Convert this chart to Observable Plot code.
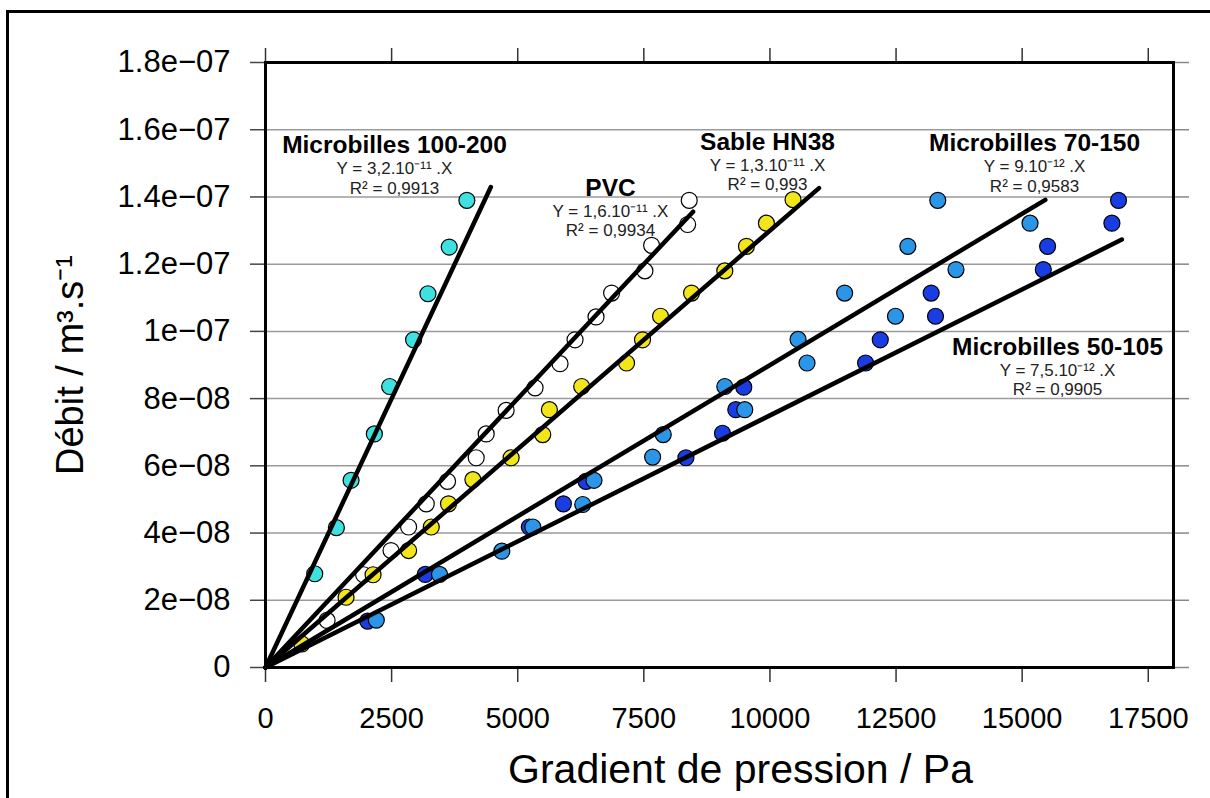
<!DOCTYPE html>
<html><head><meta charset="utf-8">
<script src="https://cdn.jsdelivr.net/npm/d3@7"></script>
<script src="https://cdn.jsdelivr.net/npm/@observablehq/plot@0.6"></script>
<style>
html,body{margin:0;padding:0;background:#fff;overflow:hidden;width:1210px;height:798px;}
#border{position:absolute;left:6px;top:10px;width:1400px;height:1000px;border:3px solid #000;box-sizing:border-box;}
#chart{position:absolute;left:0;top:0;}
#chart svg{display:block;}
</style></head><body>
<div id="border"></div>
<div id="chart"></div>
<script>
// Axis ticks and labels
const xTicks = [0, 2500, 5000, 7500, 10000, 12500, 15000, 17500];
const xTickLabels = ["0", "2500", "5000", "7500", "10000", "12500", "15000", "17500"];
const yTicks = [0, 2e-8, 4e-8, 6e-8, 8e-8, 1e-7, 1.2e-7, 1.4e-7, 1.6e-7, 1.8e-7];
const yTickLabels = ["0", "2e\u221208", "4e\u221208", "6e\u221208", "8e\u221208", "1e\u221207", "1.2e\u221207", "1.4e\u221207", "1.6e\u221207", "1.8e\u221207"];
const gridValues = [2e-8, 4e-8, 6e-8, 8e-8, 1e-7, 1.2e-7, 1.4e-7, 1.6e-7];

// Series
const seriesNames = ["Microbilles 100-200", "PVC", "Sable HN38", "Microbilles 70-150", "Microbilles 50-105"];
const seriesColors = ["#3fe0e0", "#ffffff", "#f2e61a", "#2b96e8", "#1a3de3"];
const slopes = [3.2e-11, 1.6e-11, 1.3e-11, 9e-12, 7.5e-12];
const lineEndX = [4467, 8476, 10972, 15459, 16976];
const equations = ["Y = 3,2.10\u207B\u00B9\u00B9 .X", "Y = 1,6.10\u207B\u00B9\u00B9 .X", "Y = 1,3.10\u207B\u00B9\u00B9 .X", "Y = 9.10\u207B\u00B9\u00B2 .X", "Y = 7,5.10\u207B\u00B9\u00B2 .X"];
const r2Labels = ["R\u00B2 = 0,9913", "R\u00B2 = 0,9934", "R\u00B2 = 0,993", "R\u00B2 = 0,9583", "R\u00B2 = 0,9905"];
const labelX = [2557, 6839, 9952, 15245, 15701];
const labelY = [1.53e-7, 1.404e-7, 1.54e-7, 1.536e-7, 9.31e-8];

// Points: Microbilles 100-200 (cyan)
const mb100X = [976, 1405, 1696, 2158, 2461, 2936, 3220, 3642, 3992];
const mb100Y = [2.79e-8, 4.16e-8, 5.57e-8, 6.95e-8, 8.36e-8, 9.75e-8, 1.112e-7, 1.251e-7, 1.39e-7];
// PVC (white)
const pvcX = [1221, 1946, 2488, 2837, 3187, 3609, 4177, 4375, 4770, 5344, 5839, 6136, 6552, 6861, 7521, 7654, 8368, 8400];
const pvcY = [1.40e-8, 2.76e-8, 3.48e-8, 4.18e-8, 4.87e-8, 5.54e-8, 6.24e-8, 6.95e-8, 7.65e-8, 8.32e-8, 9.04e-8, 9.75e-8, 1.043e-7, 1.114e-7, 1.18e-7, 1.256e-7, 1.318e-7, 1.39e-7];
// Sable HN38 (yellow)
const sableX = [720, 1597, 2132, 2837, 3286, 3628, 4111, 4869, 5496, 5628, 6268, 7158, 7474, 7831, 8446, 9105, 9534, 9930, 10458];
const sableY = [7.0e-9, 2.09e-8, 2.76e-8, 3.48e-8, 4.18e-8, 4.87e-8, 5.59e-8, 6.24e-8, 6.93e-8, 7.67e-8, 8.36e-8, 9.06e-8, 9.75e-8, 1.045e-7, 1.114e-7, 1.18e-7, 1.253e-7, 1.322e-7, 1.392e-7];
// Microbilles 70-150 (light blue)
const mb70X = [2197, 3450, 4685, 5299, 6289, 6512, 7674, 7885, 9105, 9501, 10557, 10735, 11481, 12488, 12734, 13327, 13688, 15156];
const mb70Y = [1.41e-8, 2.77e-8, 3.46e-8, 4.18e-8, 4.85e-8, 5.57e-8, 6.26e-8, 6.93e-8, 8.36e-8, 7.67e-8, 9.76e-8, 9.06e-8, 1.114e-7, 1.045e-7, 1.253e-7, 1.39e-7, 1.184e-7, 1.322e-7];
// Microbilles 50-105 (dark blue)
const mb50X = [2025, 3167, 5230, 5905, 6354, 8334, 9059, 9323, 9481, 11896, 12187, 13282, 13196, 15419, 15504, 16779, 16910];
const mb50Y = [1.38e-8, 2.77e-8, 4.18e-8, 4.87e-8, 5.54e-8, 6.24e-8, 6.97e-8, 7.67e-8, 8.34e-8, 9.06e-8, 9.75e-8, 1.045e-7, 1.114e-7, 1.184e-7, 1.253e-7, 1.322e-7, 1.39e-7];

// Build tables (drawing order: white, yellow, cyan, dark blue, light blue)
const pointSets = [[1, pvcX, pvcY], [2, sableX, sableY], [0, mb100X, mb100Y], [4, mb50X, mb50Y], [3, mb70X, mb70Y]];
const points = pointSets.flatMap(([s, xs, ys]) => xs.map((x, i) => ({x, y: ys[i], color: seriesColors[s]})));
const fitLines = seriesNames.flatMap((name, i) => [
  {series: name, x: 0, y: 0},
  {series: name, x: lineEndX[i], y: slopes[i] * lineEndX[i]}
]);
const labels = seriesNames.map((name, i) => ({text: `${name}\n${equations[i]}\n${r2Labels[i]}`, x: labelX[i], y: labelY[i]}));

const annoFont = "'Liberation Sans', Arial, sans-serif";
const chart = Plot.plot({
  width: 1210,
  height: 798,
  marginLeft: 265,
  marginRight: 37,
  marginTop: 62,
  marginBottom: 131,
  style: {fontFamily: "'Liberation Sans', Arial, Helvetica, sans-serif", background: "transparent", color: "#000"},
  x: {domain: [0, 18000], axis: null},
  y: {domain: [0, 1.8e-7], axis: null},
  color: {type: "identity"},
  marks: [
    Plot.gridY(gridValues, {stroke: "#9a9a9a", strokeOpacity: 1, strokeWidth: 1.5}),
    Plot.axisX({ticks: xTicks, tickFormat: d => xTickLabels[xTicks.indexOf(d)], tickSize: 15, tickPadding: 25, fontSize: 29, stroke: "#333", strokeWidth: 1.5, label: null}),
    Plot.axisX({anchor: "top", ticks: xTicks, tickFormat: () => "", tickSize: 15, stroke: "#333", strokeWidth: 1.5, label: null}),
    Plot.axisY({ticks: yTicks, tickFormat: d => yTickLabels[yTicks.indexOf(d)], tickSize: 15, tickPadding: 20, fontSize: 31, stroke: "#444", strokeWidth: 1.5, label: null}),
    Plot.axisY({anchor: "right", ticks: yTicks, tickFormat: () => "", tickSize: 15, stroke: "#888", strokeWidth: 1.5, label: null}),
    Plot.dot(points, {x: "x", y: "y", r: 8, fill: "color", stroke: "#000", strokeWidth: 1.2}),
    Plot.line(fitLines, {x: "x", y: "y", z: "series", stroke: "#000", strokeWidth: 4.5}),
    Plot.frame({stroke: "#000", strokeWidth: 3}),
    Plot.text(labels, {x: "x", y: "y", text: "text", ariaLabel: "series-labels", fontFamily: annoFont, fontSize: 17, lineAnchor: "bottom", lineHeight: 1.1, fill: "#222"}),
    Plot.text(["Gradient de pression / Pa"], {text: d => d, frameAnchor: "bottom", dx: 21, dy: 115, fontSize: 41, textAnchor: "middle", lineAnchor: "bottom", fill: "#000"}),
    Plot.text(["D\u00E9bit / m\u00B3.s\u207B\u00B9"], {text: d => d, frameAnchor: "left", dx: -183, rotate: -90, fontSize: 38, textAnchor: "middle", lineAnchor: "bottom", fill: "#000"})
  ]
});
// Style the three lines of each series label: bold title, then equation and R² lines beneath
const lineOffsets = [0, 21, 40.5];
d3.select(chart).selectAll("text").each(function () {
  const ts = this.querySelectorAll("tspan");
  if (ts.length === 3 && seriesNames.includes(ts[0].textContent)) {
    this.removeAttribute("dy");
    this.removeAttribute("y");
    ts.forEach((t, k) => {
      t.removeAttribute("dy");
      t.setAttribute("x", "0");
      t.setAttribute("y", String(lineOffsets[k]));
    });
    ts[0].setAttribute("font-weight", "bold");
    ts[0].setAttribute("font-size", "24.5");
    ts[0].setAttribute("fill", "#000");
  }
});
document.getElementById("chart").appendChild(chart);
</script>
</body></html>
